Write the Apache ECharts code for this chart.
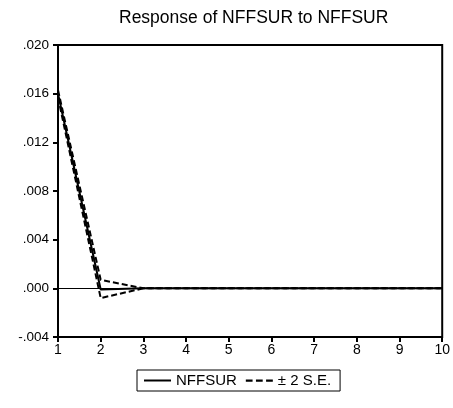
<!DOCTYPE html>
<html><head><meta charset="utf-8">
<script src="https://cdn.jsdelivr.net/npm/echarts@6/dist/echarts.min.js"></script>
<style>html,body{margin:0;padding:0;background:#fff}#c{width:453px;height:408px}</style>
</head><body><div id="c"></div>
<script>
const periods = [1,2,3,4,5,6,7,8,9,10];
const response = [0.0160, -0.0001, 0.0000, 0.0000, 0.0000, 0.0000, 0.0000, 0.0000, 0.0000, 0.0000];
const upperBand = [0.0163, 0.0007, 0.0000, 0.0000, 0.0000, 0.0000, 0.0000, 0.0000, 0.0000, 0.0000];
const lowerBand = [0.0157, -0.0008, 0.0000, 0.0000, 0.0000, 0.0000, 0.0000, 0.0000, 0.0000, 0.0000];
const yTicks = [-0.004, 0.000, 0.004, 0.008, 0.012, 0.016, 0.020];

const pair = arr => periods.map((p,i)=>[p,arr[i]]);
const font = 'Arial, "Liberation Sans", sans-serif';
const chart = echarts.init(document.getElementById('c'));
chart.setOption({
  animation:false,
  title:{text:'Response of NFFSUR to NFFSUR',left:114,top:4,
    textStyle:{fontFamily:font,fontSize:17.5,fontWeight:'normal',color:'#000'}},
  grid:{left:58,right:6,top:45,bottom:71,show:true,borderColor:'#000',borderWidth:2,backgroundColor:'transparent'},
  xAxis:{type:'value',min:1,max:10,interval:1,
    axisLine:{show:false,onZero:false},
    axisTick:{show:true,inside:false,length:5,lineStyle:{color:'#000',width:2}},
    axisLabel:{color:'#000',fontFamily:font,fontSize:14,margin:6},
    splitLine:{show:false}},
  yAxis:{type:'value',min:-0.004,max:0.020,interval:0.004,
    axisLine:{show:false,onZero:false},
    axisTick:{show:true,inside:false,length:5,lineStyle:{color:'#000',width:2}},
    axisLabel:{color:'#000',fontFamily:font,fontSize:13.5,margin:9,
      formatter:v=>{const s=Math.abs(v).toFixed(3).replace(/^0/,'');return (v<-1e-9?'-':'')+s;}},
    splitLine:{show:false}},
  legend:{top:370,left:137,itemWidth:27,itemHeight:14,itemGap:9,
    borderColor:'#000',borderWidth:1,borderRadius:0,padding:[3,9,3,7],
    textStyle:{fontFamily:font,fontSize:15,color:'#000'},
    data:[{name:'NFFSUR',icon:'path://M0,0 L27,0 L27,2 L0,2 Z'},
          {name:'± 2 S.E.',icon:'path://M0,0 L6,0 L6,2 L0,2 Z M9,0 L15,0 L15,2 L9,2 Z M18,0 L24,0 L24,2 L18,2 Z'}],
    itemStyle:{color:'#000'}},
  series:[
    {name:'NFFSUR',type:'line',data:pair(response),symbol:'none',
     lineStyle:{color:'#000',width:2},itemStyle:{color:'#000'},z:3,
     markLine:{silent:true,symbol:'none',label:{show:false},
       lineStyle:{color:'#000',width:1,type:'solid'},data:[{yAxis:0}]}},
    {name:'± 2 S.E.',type:'line',data:pair(upperBand),symbol:'none',
     lineStyle:{color:'#000',width:2,type:[6,3]},itemStyle:{color:'#000'}},
    {name:'± 2 S.E.',type:'line',data:pair(lowerBand),symbol:'none',
     lineStyle:{color:'#000',width:2,type:[6,3]},itemStyle:{color:'#000'}}
  ]
});
</script></body></html>
